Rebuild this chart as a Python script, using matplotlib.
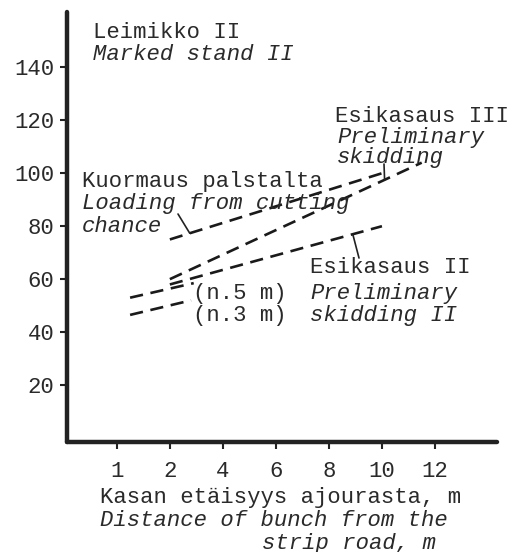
import numpy as np
import matplotlib
matplotlib.use("Agg")
import matplotlib.pyplot as plt

# ---- data (distance m, value) ----
x_ticks = [1, 2, 4, 6, 8, 10, 12]
y_ticks = [20, 40, 60, 80, 100, 120, 140]

kuormaus_x = [2, 10]
kuormaus_y = [75, 100]
esik3_x = [2, 11.5]
esik3_y = [60, 104]
esik2_x = [2, 10]
esik2_y = [58, 80]
n5_x = [1.25, 2.9]
n5_y = [53, 58.5]
n3_x = [1.25, 2.8]
n3_y = [46.5, 52]

W, H = 512, 552
FONT = "Liberation Mono"
FS = 16

fig = plt.figure(figsize=(W / 100, H / 100), dpi=100)
ax = fig.add_axes([67 / W, 1 - 442 / H, (497 - 67) / W, (442 - 12) / H])


def fwd(d):
    d = np.asarray(d, dtype=float)
    return np.where(d < 2, d - 1, d / 2)


def inv(p):
    p = np.asarray(p, dtype=float)
    return np.where(p < 1, p + 1, 2 * p)


ax.set_xscale("function", functions=(fwd, inv))
ax.set_xlim(0.06, 14.34)
ax.set_ylim(-1.5, 160.9)

dash = dict(color="#1a1a1a", lw=1.9, dashes=(5.0, 2.9), solid_capstyle="butt",
            dash_capstyle="butt")
for xs, ys in [(kuormaus_x, kuormaus_y), (esik3_x, esik3_y), (esik2_x, esik2_y),
               (n5_x, n5_y), (n3_x, n3_y)]:
    ax.plot(xs, ys, **dash)

for s in ["top", "right"]:
    ax.spines[s].set_visible(False)
for s in ["left", "bottom"]:
    ax.spines[s].set_linewidth(3.2)
    ax.spines[s].set_color("#222222")
    ax.spines[s].set_capstyle("round")

ax.set_xticks(x_ticks)
ax.set_xticklabels([str(v) for v in x_ticks])
ax.set_yticks(y_ticks)
ax.set_yticklabels([str(v) for v in y_ticks])
ax.xaxis.set_minor_locator(matplotlib.ticker.NullLocator())
ax.tick_params(axis="both", length=5, width=1.5, color="#222222",
               labelsize=FS, labelcolor="#2a2a2a")
ax.tick_params(axis="x", pad=9)
ax.tick_params(axis="y", pad=4)
for lab in ax.get_xticklabels() + ax.get_yticklabels():
    lab.set_family(FONT)

texts = [
    ("Leimikko II", 93, 32, "normal"),
    ("Marked stand II", 93, 55, "italic"),
    ("Esikasaus III", 335, 117, "normal"),
    ("Preliminary", 337, 137, "italic"),
    ("skidding", 337, 157, "italic"),
    ("Kuormaus palstalta", 82, 181, "normal"),
    ("Loading from cutting", 82, 204, "italic"),
    ("chance", 82, 227, "italic"),
    ("Esikasaus II", 310, 268, "normal"),
    ("Preliminary", 310, 294, "italic"),
    ("skidding II", 310, 315, "italic"),
    ("(n.5 m)", 193, 294, "normal"),
    ("(n.3 m)", 193, 315, "normal"),
    ("Kasan etäisyys ajourasta, m", 100, 498, "normal"),
    ("Distance of bunch from the", 100, 521, "italic"),
    ("strip road, m", 262, 543, "italic"),
]
for s, px, py, st in texts:
    fig.text(px / W, 1 - py / H, s, family=FONT, style=st, fontsize=FS,
             color="#2a2a2a", ha="left", va="center")

# leader lines from labels to curves
leaders = [
    (kuormaus_x, kuormaus_y, 2.75, 178, 214),
    (esik3_x, esik3_y, 10.1, 384, 164),
    (esik2_x, esik2_y, 8.9, 359, 258),
]
for xs, ys, xd, tx, ty in leaders:
    yd = np.interp(xd, xs, ys)
    ax.annotate("", xy=(xd, yd), xycoords="data",
                xytext=(tx / W, 1 - ty / H), textcoords="figure fraction",
                arrowprops=dict(arrowstyle="-", lw=1.2, color="#222222",
                                shrinkA=0, shrinkB=0))

fig.savefig("out.png", dpi=100, facecolor="white")
